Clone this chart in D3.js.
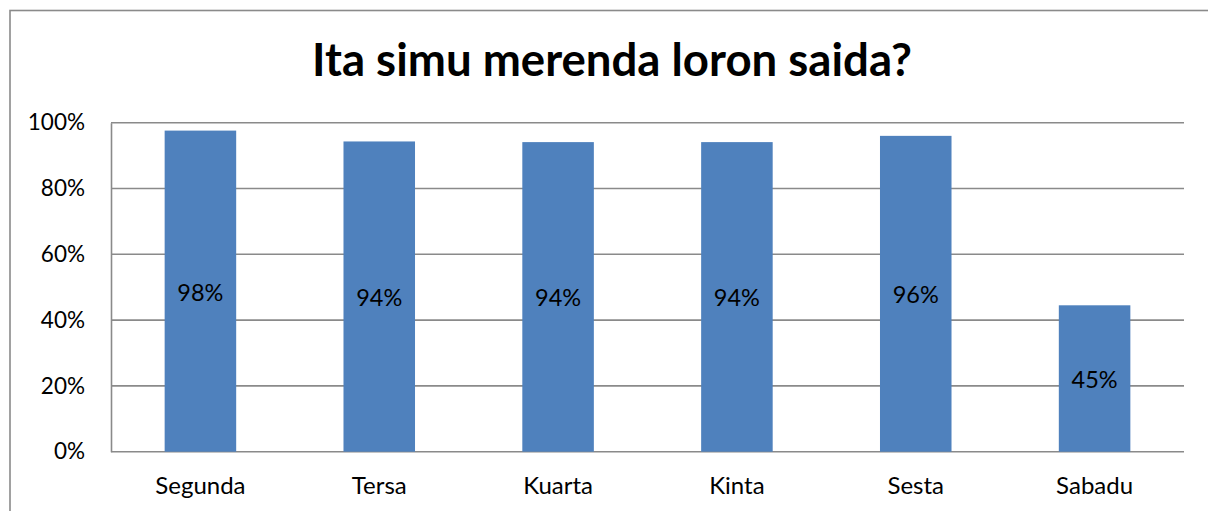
<!DOCTYPE html>
<html>
<head>
<meta charset="utf-8">
<script src="https://cdn.jsdelivr.net/npm/d3@7"></script>
<style>
  html, body { margin: 0; padding: 0; background: #fff; }
  svg { display: block; }
  text { font-family: Lato, "Liberation Sans", sans-serif; fill: #000; }
</style>
</head>
<body>
<svg id="chart" width="1208" height="511"></svg>
<script>
const title = "Ita simu merenda loron saida?";
const categories = ["Segunda", "Tersa", "Kuarta", "Kinta", "Sesta", "Sabadu"];
const values = [0.976, 0.943, 0.941, 0.941, 0.960, 0.445];
const valueLabels = ["98%", "94%", "94%", "94%", "96%", "45%"];
const yTicks = [0, 0.2, 0.4, 0.6, 0.8, 1.0];

(function () {
const svg = d3.select("#chart");
const pLeft = 111, pRight = 1184, pTop = 122.7, pBottom = 451.7;

// outer chart border (extends past right/bottom edge)
svg.append("rect")
  .attr("x", 10).attr("y", 10.5)
  .attr("width", 1400).attr("height", 700)
  .attr("fill", "none").attr("stroke", "#8a8a8a").attr("stroke-width", 1.6);

const x = d3.scaleBand().domain(categories).range([pLeft, pRight])
  .paddingInner(0.6).paddingOuter(0.3);
const y = d3.scaleLinear().domain([0, 1]).range([pBottom, pTop]);

// gridlines
svg.append("g").selectAll("line").data(yTicks).join("line")
  .attr("x1", pLeft).attr("x2", pRight)
  .attr("y1", d => y(d)).attr("y2", d => y(d))
  .attr("stroke", "#8a8a8a").attr("stroke-width", 1.6);

// y axis
const yAxis = svg.append("g").attr("transform", `translate(${pLeft},0)`)
  .call(d3.axisLeft(y).tickValues(yTicks).tickFormat(d3.format(".0%")).tickSize(0).tickPadding(26));
yAxis.select(".domain").attr("stroke", "#8a8a8a").attr("stroke-width", 1.6);
yAxis.selectAll("text").attr("font-size", 22.5).attr("font-family", "Lato, sans-serif").attr("fill", "#000");

// x axis labels
const xAxis = svg.append("g").attr("transform", `translate(0,${pBottom})`)
  .call(d3.axisBottom(x).tickSize(0).tickPadding(0));
xAxis.select(".domain").remove();
xAxis.selectAll("text").attr("font-size", 24).attr("font-family", "Lato, sans-serif")
  .attr("fill", "#000").attr("dy", null).attr("y", 42.5);

// bars
svg.append("g").selectAll("rect").data(categories).join("rect")
  .attr("x", d => x(d)).attr("width", x.bandwidth())
  .attr("y", (d, i) => y(values[i]))
  .attr("height", (d, i) => y(0) - y(values[i]))
  .attr("fill", "#4F81BD");

// value labels
svg.append("g").selectAll("text").data(categories).join("text")
  .attr("x", d => x(d) + x.bandwidth() / 2)
  .attr("y", (d, i) => (y(values[i]) + y(0)) / 2 + 9.5)
  .attr("text-anchor", "middle").attr("font-size", 23.5)
  .text((d, i) => valueLabels[i]);

// title
const t = svg.append("text")
  .attr("x", 612).attr("y", 76)
  .attr("text-anchor", "middle").attr("font-size", 40).attr("font-weight", "bold")
  .text(title);
const w = t.node().getComputedTextLength();
t.attr("font-size", 40 * 600 / w);
})();
</script>
</body>
</html>
